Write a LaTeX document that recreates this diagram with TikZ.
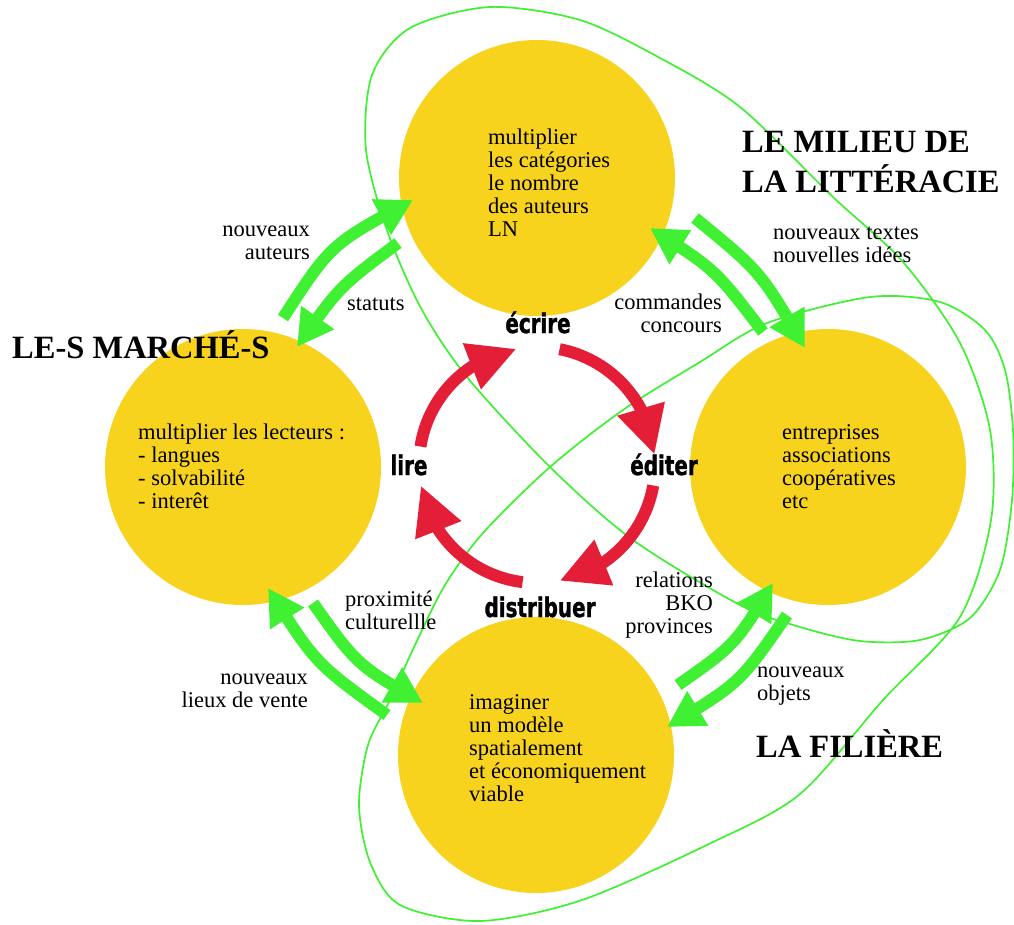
\documentclass[tikz,border=0pt]{standalone}
\usepackage{fontspec}
\setmainfont{Liberation Serif}
\newfontfamily\verbefont{DejaVu Sans Condensed}[FakeStretch=0.82, BoldFeatures={FakeBold=1.2}]
\usetikzlibrary{arrows.meta,bending}

\definecolor{jaune}{RGB}{248,211,30}
\definecolor{vert}{RGB}{64,240,50}
\definecolor{rouge}{RGB}{228,30,55}

\begin{document}
\begin{tikzpicture}[x=1pt,y=-1pt,
    disque/.style={circle, fill=jaune, minimum size=276pt, inner sep=0pt},
    texte/.style={font=\fontsize{22.5}{23}\selectfont, inner sep=0pt, execute at begin node=\strut},
    gauche/.style={texte, align=left, anchor=north west},
    droite/.style={texte, align=right, anchor=north east},
    titre/.style={font=\fontsize{32.5}{40}\selectfont\bfseries, inner sep=0pt},
    verbe/.style={font=\verbefont\bfseries\fontsize{27}{27}\selectfont, inner sep=0pt, anchor=base},
    tour/.style={rouge, line width=12pt, -{Triangle[length=48pt,width=46pt,flex]}},
    flux/.style={vert, line width=12pt, -{Triangle[length=36pt,width=38pt,flex]}},
    boucle/.style={vert, line width=1.7pt}]
    \useasboundingbox (0,0) rectangle (1014,924);

    % The four poles
    \node[disque] (auteurs) at (537,178) {};
    \node[disque] (lecteurs) at (243,467) {};
    \node[disque] (entreprises) at (828,467) {};
    \node[disque] (modele) at (536,755) {};

    % The thin loop round the three milieux
    \draw[boucle] plot[smooth cycle] coordinates {
      (415,645) (445,585) (483,533) (550,467) (623,410) (700,362) (767,323)
      (870,297) (940,302) (985,330) (1005,370) (1013,430) (1012,500) (1000,570)
      (970,618) (920,640) (860,641) (800,627) (740,605) (633,540) (550,467)
      (467,377) (422,310) (388,233) (366,150) (372,75) (410,28) (490,7) (580,20)
      (660,58) (740,107) (833,197) (903,262) (960,343) (990,430) (991,520)
      (960,617) (883,700) (800,794) (711,843) (582,900) (480,921) (400,905)
      (370,862) (359,805) (368,745) (390,700)};

    % The red cycle
    \coordinate (centre) at (537,465);
    \draw[tour] ([shift={(-79:118)}]centre) arc[start angle=-79, end angle=-5, radius=118];
    \draw[tour] ([shift={(10:118)}]centre) arc[start angle=10, end angle=79, radius=118];
    \draw[tour] ([shift={(97:118)}]centre) arc[start angle=97, end angle=170, radius=118];
    \draw[tour] ([shift={(189:118)}]centre) arc[start angle=189, end angle=260, radius=118];

    % Green exchanges between the poles
    \coordinate (na-0) at (283,318); \coordinate (na-1) at (413,200);
    \coordinate (st-0) at (398,243); \coordinate (st-1) at (297,347);
    \coordinate (co-0) at (763,332); \coordinate (co-1) at (650,228);
    \coordinate (nt-0) at (695,218); \coordinate (nt-1) at (805,348);
    \coordinate (re-0) at (678,685); \coordinate (re-1) at (773,583);
    \coordinate (no-0) at (787,615); \coordinate (no-1) at (667,727);
    \coordinate (nl-0) at (387,715); \coordinate (nl-1) at (268,588);
    \coordinate (pc-0) at (313,603); \coordinate (pc-1) at (423,703);
    \draw[flux] (na-0) .. controls (331,244) .. (na-1);
    \draw[flux] (st-0) .. controls (339,287) .. (st-1);
    \draw[flux] (co-0) .. controls (715,269) .. (co-1);
    \draw[flux] (nt-0) .. controls (761,272) .. (nt-1);
    \draw[flux] (re-0) .. controls (735,645) .. (re-1);
    \draw[flux] (no-0) .. controls (740,683) .. (no-1);
    \draw[flux] (nl-0) .. controls (315,663) .. (nl-1);
    \draw[flux] (pc-0) .. controls (357,665) .. (pc-1);

    % Texts in the poles
    \node[gauche] (t-auteurs) at (488,129) {multiplier\\les catégories\\le nombre\\des auteurs\\LN};
    \node[gauche] (t-lecteurs) at (138,424) {multiplier les lecteurs :\\- langues\\- solvabilité\\- interêt};
    \node[gauche] (t-entreprises) at (782,424) {entreprises\\associations\\coopératives\\etc};
    \node[gauche] (t-modele) at (469,694) {imaginer\\un modèle\\spatialement\\et économiquement\\viable};

    % Labels of the exchanges
    \node[droite] (l-na) at (310,226) {nouveaux\\auteurs};
    \node[gauche] (l-st) at (347,294) {statuts};
    \node[droite] (l-co) at (722,294) {commandes\\concours};
    \node[gauche] (l-nt) at (773,227) {nouveaux textes\\nouvelles idées};
    \node[gauche] (l-pc) at (345,591) {proximité\\culturellle};
    \node[droite] (l-re) at (713,572) {relations\\BKO\\provinces};
    \node[droite] (l-nl) at (308,674) {nouveaux\\lieux de vente};
    \node[gauche] (l-no) at (757,667) {nouveaux\\objets};

    % Titles
    \node[titre, anchor=base west] (marches) at (12,358) {LE-S MARCHÉ-S};
    \node[titre, anchor=north west, align=left, execute at begin node=\strut] (milieu) at (742,131) {LE MILIEU DE\\LA LITTÉRACIE};
    \node[titre, anchor=base west] (filiere) at (756,757) {LA FILIÈRE};

    % The four verbs
    \node[verbe] (ecrire) at (538,333) {écrire};
    \node[verbe] (editer) at (664,475) {éditer};
    \node[verbe] (distribuer) at (540,617) {distribuer};
    \node[verbe] (lire) at (409,475) {lire};
\end{tikzpicture}
\end{document}
